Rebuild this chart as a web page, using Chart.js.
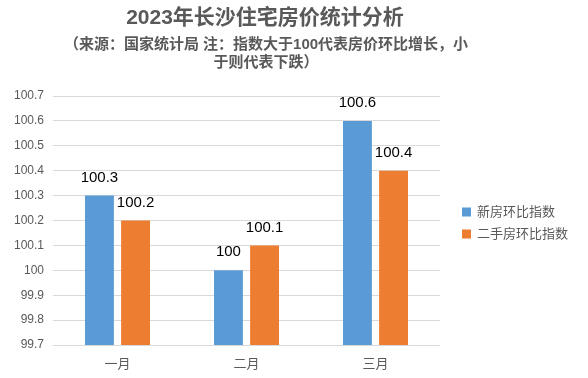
<!DOCTYPE html>
<html><head><meta charset="utf-8">
<script src="https://cdn.jsdelivr.net/npm/chart.js@4/dist/chart.umd.min.js"></script>
<style>html,body{margin:0;padding:0;background:#fff}#w{width:588px;height:378px}</style>
</head><body><div id="w"><canvas id="c" width="588" height="378"></canvas></div>
<script>
const titleText = "2023年长沙住宅房价统计分析";
const subtitleLines = ["（来源：国家统计局 注：指数大于100代表房价环比增长，小", "于则代表下跌）"];
const categories = ["一月", "二月", "三月"];
const seriesNames = ["新房环比指数", "二手房环比指数"];
const newHouse = [100.3, 100, 100.6];
const secondHand = [100.2, 100.1, 100.4];
const yTicks = [99.7, 99.8, 99.9, 100, 100.1, 100.2, 100.3, 100.4, 100.5, 100.6, 100.7];
const colors = ["#5B9BD5", "#ED7D31"];
const FONT = "'Liberation Sans', 'Noto Sans CJK SC', sans-serif";

const overlay = {
  id: 'overlay',
  afterDraw(chart) {
    const ctx = chart.ctx;
    ctx.save();
    ctx.textAlign = 'center';
    ctx.textBaseline = 'middle';
    ctx.fillStyle = '#595959';
    ctx.font = 'bold 21px ' + FONT;
    ctx.fillText(titleText, 265, 18);
    ctx.font = 'bold 15px ' + FONT;
    subtitleLines.forEach((l, i) => ctx.fillText(l, 266, 45 + i * 18));
    // data labels
    ctx.fillStyle = '#000';
    ctx.font = '15px ' + FONT;
    ctx.textBaseline = 'middle';
    chart.data.datasets.forEach((ds, di) => {
      const meta = chart.getDatasetMeta(di);
      meta.data.forEach((el, i) => {
        ctx.fillText(String(ds.data[i]), el.x, el.y - 18);
      });
    });
    // legend
    ctx.textAlign = 'left';
    ctx.textBaseline = 'middle';
    ctx.font = '13px ' + FONT;
    chart.data.datasets.forEach((ds, di) => {
      const y = 212 + di * 22;
      ctx.fillStyle = ds.backgroundColor;
      ctx.fillRect(462, y - 4.5, 9, 9);
      ctx.fillStyle = '#595959';
      ctx.fillText(ds.label, 477, y);
    });
    ctx.restore();
  }
};

new Chart(document.getElementById('c'), {
  type: 'bar',
  data: {
    labels: categories,
    datasets: [
      { label: seriesNames[0], data: newHouse, backgroundColor: colors[0], barPercentage: 0.8, categoryPercentage: 0.56 },
      { label: seriesNames[1], data: secondHand, backgroundColor: colors[1], barPercentage: 0.8, categoryPercentage: 0.56 }
    ]
  },
  options: {
    responsive: false,
    animation: false,
    layout: { padding: { left: 0, right: 148, top: 96, bottom: 0 } },
    plugins: { legend: { display: false }, title: { display: false }, tooltip: { enabled: false } },
    scales: {
      x: {
        grid: { display: false },
        border: { display: false },
        ticks: { color: '#595959', font: { family: FONT, size: 13 }, padding: 4 },
        afterFit(s) { s.height = 33; }
      },
      y: {
        min: 99.7, max: 100.7,
        afterBuildTicks(s) { s.ticks = yTicks.map(v => ({ value: v })); },
        grid: { color: '#d9d9d9', drawTicks: false },
        border: { display: false },
        ticks: { color: '#595959', font: { family: FONT, size: 12 }, padding: 9,
          callback: v => String(parseFloat(v.toFixed(1))) },
        afterFit(s) { s.width = 53; }
      }
    }
  },
  plugins: [overlay]
});
</script>
</body></html>
